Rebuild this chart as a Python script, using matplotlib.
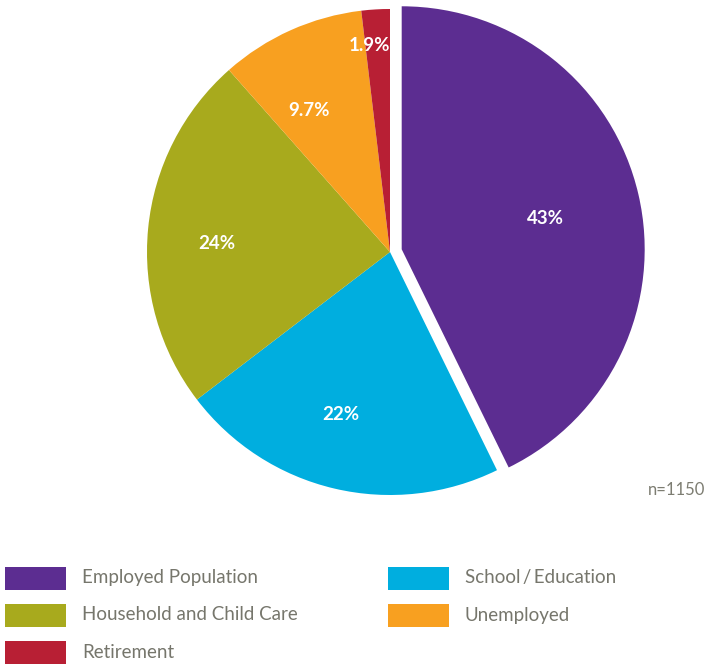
import matplotlib
matplotlib.use("Agg")
import matplotlib.pyplot as plt
from matplotlib.patches import Rectangle
import numpy as np

categories = ["Employed Population", "School\u2009/\u2009Education", "Household and Child Care", "Unemployed", "Retirement"]
values = [43, 22, 24, 9.7, 1.9]
pct_labels = ["43%", "22%", "24%", "9.7%", "1.9%"]
colors = ["#5c2d91", "#00aedf", "#a8aa1d", "#f8a020", "#b81f34"]
note = "n=1150"

W, H = 706, 664
fig = plt.figure(figsize=(W / 100, H / 100), dpi=100)
ax = fig.add_axes([0, 0, 1, 1])
ax.set_xlim(0, W)
ax.set_ylim(0, H)
ax.set_aspect("equal")
ax.axis("off")

R = 243
cx, cy = 390, H - 252
explode = [12, 0, 0, 0, 0]
wedges, _ = ax.pie(values, colors=colors, startangle=90, counterclock=False,
                   radius=R, center=(cx, cy), explode=explode,
                   wedgeprops=dict(linewidth=0))
ax.set_xlim(0, W)
ax.set_ylim(0, H)

# label placement: radial fraction and angular nudge (degrees) per wedge
label_r = [0.605, 0.70, 0.715, 0.67, 0.856]
label_dang = [-0.9, -3.4, 2.8, 5.8, 2.4]
for w, lab, rf, da in zip(wedges, pct_labels, label_r, label_dang):
    ang = np.deg2rad((w.theta1 + w.theta2) / 2 + da)
    x0, y0 = w.center
    ax.text(x0 + rf * R * np.cos(ang), y0 + rf * R * np.sin(ang), lab,
            color="white", fontsize=13.5, fontweight="bold", family="Lato",
            ha="center", va="center")

ax.text(705, H - 490, note, color="#7d7d72", fontsize=12, family="Lato",
        ha="right", va="center")

# legend (row-major, two columns)
text_col = "#76766c"
col_x = [5, 388]
row_y = [578, 615, 652]
for i, (cat, col) in enumerate(zip(categories, colors)):
    r, c = divmod(i, 2)
    x = col_x[c]
    y = H - row_y[r]
    ax.add_patch(Rectangle((x, y - 11.5), 61, 23, color=col, lw=0))
    ax.text(x + 77, y, cat, color=text_col, fontsize=13.5, family="Lato",
            ha="left", va="center")

fig.savefig("out.png", dpi=100, facecolor="white")
